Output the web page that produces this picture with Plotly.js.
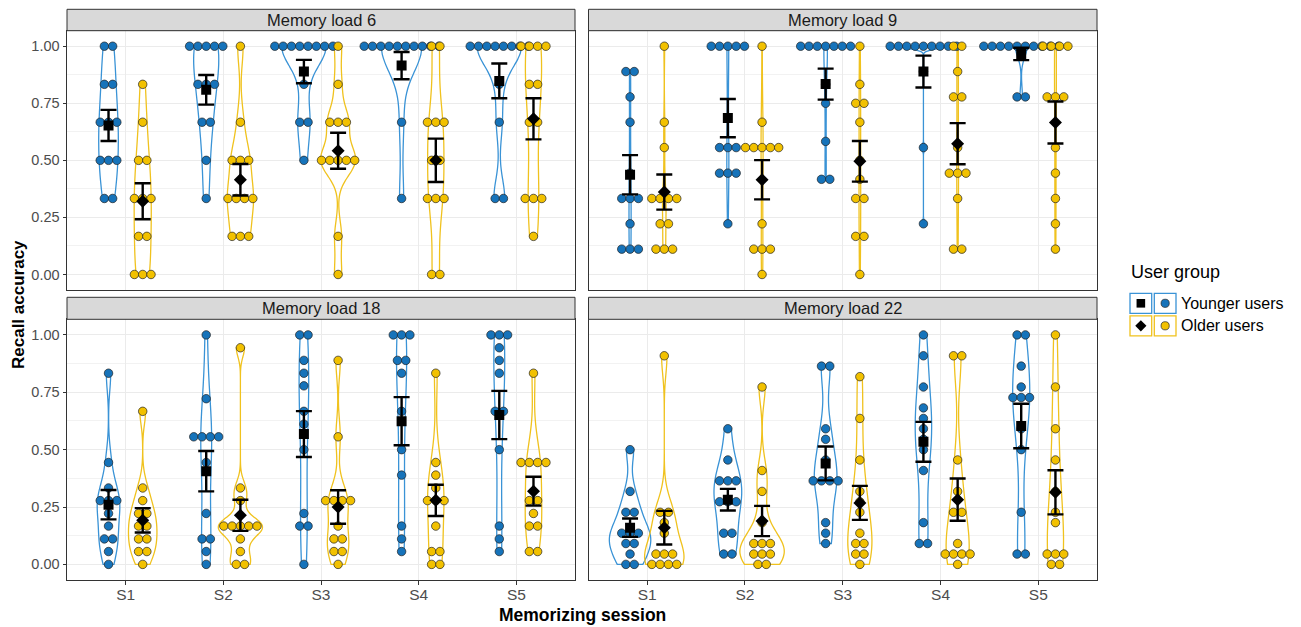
<!DOCTYPE html>
<html><head><meta charset="utf-8">
<script src="https://cdn.plot.ly/plotly-3.0.1.min.js"></script>
<style>html,body{margin:0;padding:0;background:#fff}</style>
</head><body><div id="chart" style="width:1301px;height:627px"></div>
<script>
// ---------------- data ----------------
const sessions = ['S1','S2','S3','S4','S5'];
const panelTitles = ['Memory load 6','Memory load 9','Memory load 18','Memory load 22'];
const groupNames = ['Younger users','Older users'];

// individual recall accuracies, one array per session
const load6Young = [
  [1,1,.833,.833,.667,.667,.667,.5,.5,.5,.333,.333],
  [1,1,1,1,1,.833,.833,.833,.667,.667,.5,.333],
  [1,1,1,1,1,1,1,1,.833,.667,.667,.5],
  [1,1,1,1,1,1,1,1,1,1,.667,.333],
  [1,1,1,1,1,1,1,1,.833,.667,.333,.333]];
const load6Old = [
  [.833,.667,.5,.5,.333,.333,.333,.167,.167,0,0,0],
  [1,.667,.5,.5,.5,.333,.333,.333,.333,.167,.167,.167],
  [1,.833,.667,.667,.667,.5,.5,.5,.5,.5,.167,0],
  [1,1,.667,.667,.667,.5,.5,.333,.333,.333,0,0],
  [1,1,1,1,.833,.833,.667,.667,.333,.333,.333,.167]];
const load9Young = [
  [.889,.889,.778,.667,.444,.333,.333,.333,.222,.111,.111,.111],
  [1,1,1,1,1,.556,.556,.556,.444,.444,.444,.222],
  [1,1,1,1,1,1,1,.833,.75,.583,.417,.417],
  [1,1,1,1,1,1,1,1,1,.889,.556,.222],
  [1,1,1,1,1,1,1,1,1,1,.778,.778]];
const load9Old = [
  [1,.667,.556,.333,.333,.333,.333,.222,.222,.111,.111,.111],
  [1,.667,.556,.556,.556,.556,.556,.222,.111,.111,.111,0],
  [1,.833,.75,.75,.667,.5,.417,.333,.333,.167,.167,0],
  [1,1,.889,.778,.778,.556,.444,.444,.444,.333,.111,.111],
  [1,1,1,1,.778,.778,.778,.556,.444,.333,.222,.111]];
const load18Young = [
  [.833,.444,.333,.278,.278,.278,.222,.167,.111,.111,.056,0],
  [1,.722,.556,.556,.556,.556,.444,.222,.111,.111,.056,0],
  [1,1,.889,.833,.778,.667,.611,.5,.222,.167,.167,0],
  [1,1,1,.889,.889,.833,.667,.5,.389,.167,.111,.056],
  [1,1,1,.944,.889,.833,.667,.667,.5,.167,.111,.056]];
const load18Old = [
  [.667,.333,.278,.222,.222,.167,.167,.111,.111,.056,.056,0],
  [.944,.333,.278,.167,.167,.167,.167,.167,.111,.056,0,0],
  [.889,.556,.278,.278,.278,.278,.167,.111,.111,.056,.056,0],
  [.833,.444,.389,.333,.278,.278,.278,.167,.056,.056,0,0],
  [.833,.444,.444,.444,.444,.278,.278,.222,.167,.167,.056,.056]];
const load22Young = [
  [.5,.318,.227,.227,.136,.136,.136,.091,.091,.045,0,0],
  [.591,.455,.364,.364,.364,.273,.273,.273,.136,.136,.045,.045],
  [.864,.864,.591,.545,.455,.364,.364,.364,.364,.182,.136,.091],
  [1,.909,.773,.682,.636,.591,.545,.5,.409,.182,.091,.091],
  [1,1,.864,.773,.727,.727,.727,.591,.5,.227,.045,.045]];
const load22Old = [
  [.909,.227,.227,.182,.136,.045,.045,.045,0,0,0,0],
  [.773,.409,.318,.182,.091,.091,.091,.045,.045,.045,0,0],
  [.818,.636,.455,.318,.273,.227,.136,.091,.091,.045,.045,0],
  [.909,.909,.455,.318,.227,.227,.091,.045,.045,.045,.045,0],
  [1,.773,.591,.455,.318,.227,.182,.045,.045,.045,0,0]];

// group means and standard errors
const load6MeanYoung = [.653,.809,.889,.915,.848];
const load6SeYoung   = [.068,.065,.051,.060,.076];
const load6MeanOld   = [.321,.415,.542,.500,.682];
const load6SeOld     = [.079,.069,.079,.095,.090];
const load9MeanYoung = [.437,.685,.834,.889,.966];
const load9SeYoung   = [.086,.084,.068,.070,.027];
const load9MeanOld   = [.361,.415,.496,.573,.666];
const load9SeOld     = [.077,.086,.089,.090,.092];
const load18MeanYoung = [.260,.406,.568,.624,.651];
const load18SeYoung   = [.064,.088,.100,.105,.105];
const load18MeanOld   = [.192,.214,.250,.279,.319];
const load18SeOld     = [.053,.068,.073,.068,.063];
const load22MeanYoung = [.160,.282,.440,.534,.603];
const load22SeYoung   = [.040,.047,.074,.087,.097];
const load22MeanOld   = [.160,.189,.268,.282,.314];
const load22SeOld     = [.073,.066,.074,.092,.096];

// ---------------- helpers ----------------
const W = 1301, H = 627;
const px = x => x / W, py = y => 1 - y / H;

function q7(s, p){ const h=(s.length-1)*p, lo=Math.floor(h), hi=Math.min(lo+1,s.length-1); return s[lo]+(h-lo)*(s[hi]-s[lo]); }
function nrd0(v){
  const n=v.length, m=v.reduce((a,b)=>a+b,0)/n;
  const sd=Math.sqrt(v.reduce((a,b)=>a+(b-m)*(b-m),0)/(n-1));
  const s=[...v].sort((a,b)=>a-b);
  let lo=Math.min(sd,(q7(s,.75)-q7(s,.25))/1.34);
  if(!(lo>0)) lo = sd || Math.abs(s[0]) || 1;
  return 0.9*lo*Math.pow(n,-0.2);
}
function maxDens(v,bw){
  const mn=Math.min(...v), mx=Math.max(...v); let best=0;
  for(let i=0;i<512;i++){
    const x=mn+(mx-mn)*i/511; let s=0;
    for(const d of v){ const u=(x-d)/bw; s+=Math.exp(-0.5*u*u); }
    s/= (v.length*bw*Math.sqrt(2*Math.PI));
    if(s>best) best=s;
  }
  return best;
}

// ---------------- styles ----------------
const BLUE_DOT='#1673BA', BLUE_LINE='#3A93D6', YEL_DOT='#F2C100', YEL_LINE='#F0C21E';
const DODGE=0.175, VMAX=0.45, DOTSTEP=0.085;
const FONT='Liberation Sans, Arial, sans-serif';

const panels = [
  {young:load6Young, old:load6Old, mY:load6MeanYoung, sY:load6SeYoung, mO:load6MeanOld, sO:load6SeOld},
  {young:load9Young, old:load9Old, mY:load9MeanYoung, sY:load9SeYoung, mO:load9MeanOld, sO:load9SeOld},
  {young:load18Young, old:load18Old, mY:load18MeanYoung, sY:load18SeYoung, mO:load18MeanOld, sO:load18SeOld},
  {young:load22Young, old:load22Old, mY:load22MeanYoung, sY:load22SeYoung, mO:load22MeanOld, sO:load22SeOld}];
const axisIds = [['x','y'],['x2','y2'],['x3','y3'],['x4','y4']];

const traces = [];
panels.forEach((p,pi)=>{
  const [xa,ya] = axisIds[pi];
  const groups = [
    {vals:p.young, off:-DODGE, line:BLUE_LINE, dot:BLUE_DOT, mean:p.mY, se:p.sY, sym:'square', size:10},
    {vals:p.old, off:DODGE, line:YEL_LINE, dot:YEL_DOT, mean:p.mO, se:p.sO, sym:'diamond', size:10}];
  const info = [];
  groups.forEach(g=>g.vals.forEach((v,si)=>{ const bw=nrd0(v); info.push({g,si,v,bw,md:maxDens(v,bw)}); }));
  const pmax = Math.max(...info.map(d=>d.md));
  info.forEach(d=>traces.push({
    type:'violin', xaxis:xa, yaxis:ya, x0:d.si+1+d.g.off, y:d.v,
    bandwidth:d.bw, spanmode:'hard', scalemode:'width', width:VMAX*d.md/pmax,
    line:{color:d.g.line,width:1.3}, fillcolor:'rgba(0,0,0,0)', points:false,
    hoverinfo:'skip', showlegend:false}));
  groups.forEach(g=>{
    const xs=[], ys=[];
    g.vals.forEach((v,si)=>{
      const counts = {};
      v.forEach(val=>{ counts[val]=(counts[val]||0)+1; });
      Object.keys(counts).forEach(k=>{
        const n=counts[k];
        for(let j=0;j<n;j++){ xs.push(si+1+g.off+(j-(n-1)/2)*DOTSTEP); ys.push(+k); }
      });
    });
    traces.push({type:'scatter', mode:'markers', xaxis:xa, yaxis:ya, x:xs, y:ys,
      marker:{color:g.dot, size:8.5, line:{color:'#222',width:0.7}}, hoverinfo:'y', showlegend:false});
  });
  groups.forEach(g=>{
    traces.push({type:'scatter', mode:'markers', xaxis:xa, yaxis:ya,
      x:sessions.map((s,i)=>i+1+g.off), y:g.mean,
      error_y:{type:'data', array:g.se, visible:true, color:'#000', thickness:2.4, width:8},
      marker:{color:'#000', symbol:g.sym, size:g.size}, hoverinfo:'y', showlegend:false});
  });
});

// ---------------- layout ----------------
const xL=[px(67),px(575)], xR=[px(588.5),px(1097)];
const yT=[py(290),py(30.7)], yB=[py(580),py(319.3)];
function xAxis(dom, anchor, labels){
  return {domain:dom, anchor:anchor, range:[0.4,5.6], tickmode:'array', tickvals:[1,2,3,4,5], ticktext:sessions,
    showticklabels:labels, ticks:labels?'outside':'', ticklen:3.5, tickcolor:'#333', tickwidth:1,
    ticklabelstandoff:-3,
    tickfont:{family:FONT,size:15.5,color:'#4D4D4D'}, showgrid:true, gridcolor:'#EBEBEB', gridwidth:1.1,
    zeroline:false, showline:true, mirror:true, linecolor:'#333', linewidth:1, fixedrange:true};
}
function yAxis(dom, anchor, labels){
  return {domain:dom, anchor:anchor, range:[-0.068,1.068], tickmode:'linear', tick0:0, dtick:0.25, tickformat:'.2f',
    showticklabels:labels, ticks:labels?'outside':'', ticklen:3.5, tickcolor:'#333', tickwidth:1,
    tickfont:{family:FONT,size:14.5,color:'#4D4D4D'}, showgrid:true, gridcolor:'#EBEBEB', gridwidth:1.1,
    minor:{dtick:0.125, showgrid:true, gridcolor:'#F2F2F2', gridwidth:0.7, ticks:''},
    zeroline:false, showline:true, mirror:true, linecolor:'#333', linewidth:1, fixedrange:true};
}

const shapes = [], annotations = [];
const strips = [[67,575,9.3,30.7],[588.5,1097,9.3,30.7],[67,575,297.3,319.3],[588.5,1097,297.3,319.3]];
strips.forEach((s,i)=>{
  shapes.push({type:'rect', xref:'paper', yref:'paper', x0:px(s[0]), x1:px(s[1]), y0:py(s[3]), y1:py(s[2]),
    fillcolor:'#D9D9D9', line:{color:'#333',width:1}});
  annotations.push({xref:'paper', yref:'paper', x:px((s[0]+s[1])/2), y:py((s[2]+s[3])/2), text:panelTitles[i],
    showarrow:false, xanchor:'center', yanchor:'middle', font:{family:FONT,size:16.5,color:'#1A1A1A'}});
});
annotations.push({xref:'paper', yref:'paper', x:px(18), y:py(305), text:'<b>Recall accuracy</b>', textangle:-90,
  showarrow:false, xanchor:'center', yanchor:'middle', font:{family:FONT,size:17,color:'#000'}});
annotations.push({xref:'paper', yref:'paper', x:px(582), y:py(615), text:'<b>Memorizing session</b>',
  showarrow:false, xanchor:'center', yanchor:'middle', font:{family:FONT,size:17.5,color:'#000'}});

// legend (drawn by hand: two keys per group)
annotations.push({xref:'paper', yref:'paper', x:px(1129), y:py(272), text:'User group', showarrow:false,
  xanchor:'left', yanchor:'middle', font:{family:FONT,size:18,color:'#000'}});
const legRows = [{cy:303.3, line:BLUE_LINE, dot:BLUE_DOT, sym:'square'},{cy:325.8, line:YEL_LINE, dot:YEL_DOT, sym:'diamond'}];
legRows.forEach((r,i)=>{
  [[1130,1151.7],[1154.3,1176]].forEach(b=>{
    shapes.push({type:'rect', xref:'paper', yref:'paper', x0:px(b[0]), x1:px(b[1]), y0:py(r.cy+10), y1:py(r.cy-10),
      fillcolor:'#fff', line:{color:r.line,width:1.3}});
  });
  const cx=1140.85;
  if(r.sym==='square'){
    shapes.push({type:'rect', xref:'paper', yref:'paper', x0:px(cx-4.3), x1:px(cx+4.3), y0:py(r.cy+4.3), y1:py(r.cy-4.3),
      fillcolor:'#000', line:{width:0}});
  } else {
    const d=5.6;
    shapes.push({type:'path', xref:'paper', yref:'paper',
      path:`M${px(cx-d)},${py(r.cy)} L${px(cx)},${py(r.cy-d)} L${px(cx+d)},${py(r.cy)} L${px(cx)},${py(r.cy+d)} Z`,
      fillcolor:'#000', line:{width:0}});
  }
  const dx=1165.15, rr=4.1;
  shapes.push({type:'circle', xref:'paper', yref:'paper', x0:px(dx-rr), x1:px(dx+rr), y0:py(r.cy+rr), y1:py(r.cy-rr),
    fillcolor:r.dot, line:{color:'#222',width:0.7}});
  annotations.push({xref:'paper', yref:'paper', x:px(1179), y:py(r.cy), text:groupNames[i], showarrow:false,
    xanchor:'left', yanchor:'middle', font:{family:FONT,size:16,color:'#000'}});
});

const layout = {
  width:W, height:H, margin:{l:0,r:0,t:0,b:0}, paper_bgcolor:'#fff', plot_bgcolor:'#fff',
  showlegend:false, violinmode:'overlay', hovermode:'closest',
  xaxis:xAxis(xL,'y',false), yaxis:yAxis(yT,'x',true),
  xaxis2:xAxis(xR,'y2',false), yaxis2:yAxis(yT,'x2',false),
  xaxis3:xAxis(xL,'y3',true), yaxis3:yAxis(yB,'x3',true),
  xaxis4:xAxis(xR,'y4',true), yaxis4:yAxis(yB,'x4',false),
  shapes:shapes, annotations:annotations
};
Plotly.newPlot('chart', traces, layout, {displayModeBar:false});
</script></body></html>
